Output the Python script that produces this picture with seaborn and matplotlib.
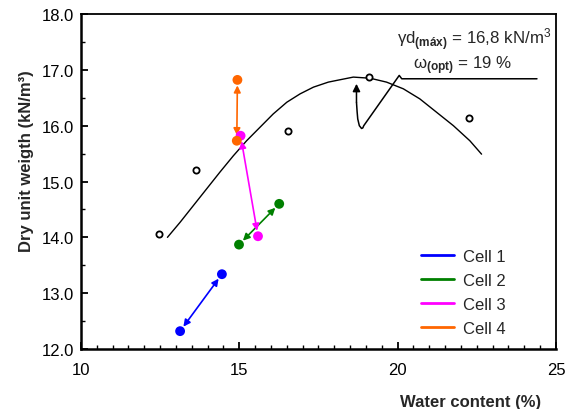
import matplotlib
matplotlib.use("Agg")
import matplotlib.pyplot as plt
import seaborn as sns
import pandas as pd
from matplotlib.lines import Line2D

# Compaction test points (open circles)
test_w = [12.46, 13.63, 16.54, 19.09, 22.25]
test_gd = [14.06, 15.21, 15.91, 16.87, 16.14]

# Compaction curve
curve_w = [12.73, 13.13, 13.55, 13.97, 14.39, 14.81, 15.23, 15.65, 16.07, 16.50,
           16.92, 17.34, 17.81, 18.07, 18.60, 19.13, 19.65, 20.18, 20.70, 21.23,
           21.76, 22.28, 22.65]
curve_gd = [14.00, 14.27, 14.57, 14.87, 15.17, 15.46, 15.73, 15.97, 16.21, 16.42,
            16.57, 16.69, 16.78, 16.81, 16.87, 16.85, 16.78, 16.66, 16.48, 16.24,
            16.00, 15.73, 15.49]

# Cell states (start, end)
cells = ["Cell 1", "Cell 2", "Cell 3", "Cell 4"]
cell_w = [[13.13, 14.45], [14.99, 16.26], [15.04, 15.59], [14.94, 14.92]]
cell_gd = [[12.32, 13.34], [13.87, 14.60], [15.82, 14.02], [16.82, 15.73]]
cell_colors = ["#0000FF", "#008000", "#FF00FF", "#FF6600"]

# leader line for the optimum annotation
leader_w = [24.40, 20.13, 20.05, 18.93, 18.90, 18.86, 18.79, 18.74, 18.72, 18.70]
leader_gd = [16.84, 16.84, 16.90, 16.00, 15.96, 15.95, 16.00, 16.12, 16.25, 16.42]
leader_tip = (18.70, 16.75)

sns.set_theme(style="ticks")
plt.rcParams["font.family"] = ["Liberation Sans", "DejaVu Sans"]
plt.rcParams["mathtext.fontset"] = "custom"
plt.rcParams["mathtext.rm"] = "Liberation Sans"
plt.rcParams["mathtext.bf"] = "Liberation Sans:bold"
plt.rcParams["mathtext.it"] = "Liberation Sans:italic"

fig = plt.figure(figsize=(5.74, 4.10), dpi=100)
ax = fig.add_axes([0.1411, 0.1463, 0.8275, 0.8171])

sns.lineplot(x=curve_w, y=curve_gd, sort=False, color="black", lw=1.0, ax=ax)
sns.lineplot(x=leader_w, y=leader_gd, sort=False, color="black", lw=1.1, ax=ax)
ax.annotate("", xy=leader_tip, xytext=(leader_w[-1], leader_gd[-1]),
            arrowprops=dict(arrowstyle="-|>", color="black", lw=1.1,
                            shrinkA=0, shrinkB=0, mutation_scale=11))

sns.scatterplot(x=test_w, y=test_gd, marker="o", s=20, facecolor="white",
                edgecolor="black", linewidth=1.3, ax=ax, zorder=4)

rows = []
for name, ws, gs in zip(cells, cell_w, cell_gd):
    for w, g in zip(ws, gs):
        rows.append({"cell": name, "w": w, "gd": g})
df = pd.DataFrame(rows)

for name, ws, gs, c in zip(cells, cell_w, cell_gd, cell_colors):
    ax.annotate("", xy=(ws[1], gs[1]), xytext=(ws[0], gs[0]),
                arrowprops=dict(arrowstyle="<|-|>", color=c, lw=1.2,
                                shrinkA=4, shrinkB=4, mutation_scale=10))

sns.scatterplot(data=df, x="w", y="gd", hue="cell", palette=cell_colors,
                s=50, linewidth=0, legend=False, ax=ax, zorder=5)

ax.text(22.42, 17.47, r"γd$_{\mathbf{(máx)}}$ = 16,8 kN/m$^{3}$",
        ha="center", va="baseline", fontsize=12.2)
ax.text(22.05, 17.02, r"ω$_{\mathbf{(opt)}}$ = 19 %",
        ha="center", va="baseline", fontsize=12.2)

ax.set_xlim(10, 25)
ax.set_ylim(12, 18)
ax.set_xticks([10, 15, 20, 25])
ax.set_xticks([10 + 0.5 * i for i in range(31)], minor=True)
ax.set_yticks([12 + i for i in range(7)])
ax.set_yticks([12 + 0.5 * i for i in range(13)], minor=True)
ax.set_yticklabels([f"{12 + i:.1f}" for i in range(7)])
ax.tick_params(which="both", direction="in", colors="black", labelsize=12,
               top=False, right=False)
ax.tick_params(which="major", length=5, width=1.3)
ax.tick_params(which="minor", length=3, width=1.0)
ax.tick_params(axis="x", pad=9)
ax.tick_params(axis="y", pad=5)
for side in ["left", "bottom"]:
    ax.spines[side].set_linewidth(1.8)
for side in ["top", "right"]:
    ax.spines[side].set_linewidth(1.3)
for sp in ax.spines.values():
    sp.set_color("black")

ax.set_xlabel("Water content (%)", fontsize=12, fontweight="bold")
ax.xaxis.label.set_ha("right")
ax.xaxis.set_label_coords(0.968, -0.135)
ax.set_ylabel("Dry unit weigth (kN/m³)", fontsize=12, fontweight="bold")
ax.yaxis.set_label_coords(-0.099, 0.564)

handles = [Line2D([0], [0], color=c, lw=2) for c in cell_colors]
ax.legend(handles, cells, loc="upper left", bbox_to_anchor=(0.716, 0.30),
          frameon=False, fontsize=12, handlelength=2.0, handletextpad=0.5,
          labelspacing=0.55, borderpad=0, borderaxespad=0)

fig.savefig("out.png", dpi=100)
